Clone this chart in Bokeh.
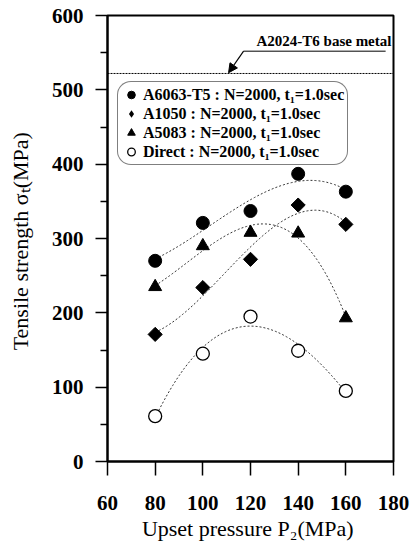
import numpy as np
from bokeh.plotting import figure
from bokeh.models import (Range1d, FixedTicker, Span, Label, Arrow, NormalHead,
                          Legend, LegendItem, ColumnDataSource)
from bokeh.embed import file_html
from bokeh.resources import INLINE

# ---- data ----
pressure = [80, 100, 120, 140, 160]
a6063_t5 = [270, 321, 337, 387, 363]
a1050 = [171, 234, 272, 345, 319]
a5083 = [235, 290, 308, 307, 193]
direct = [61, 145, 195, 149, 95]
base_metal = 522

labels = ["A6063-T5 : N=2000, t\u2081=1.0sec",
          "A1050 : N=2000, t\u2081=1.0sec",
          "A5083 : N=2000, t\u2081=1.0sec",
          "Direct : N=2000, t\u2081=1.0sec"]
x_ticks = [60, 80, 100, 120, 140, 160, 180]
y_ticks = [0, 100, 200, 300, 400, 500, 600]
y_minor = [50, 150, 250, 350, 450, 550]

SERIF = "Liberation Serif"

p = figure(width=412, height=546, output_backend="svg", toolbar_location=None,
           x_range=Range1d(60, 180), y_range=Range1d(0, 600),
           min_border_left=107, min_border_right=19, min_border_top=15,
           min_border_bottom=85)
p.grid.visible = False
p.outline_line_color = "black"
p.outline_line_width = 2
p.background_fill_color = "white"
p.border_fill_color = "white"

# axes
xa = p.xaxis[0]
xa.ticker = FixedTicker(ticks=x_ticks)
xa.axis_line_width = 2
xa.major_tick_out = 14
xa.major_tick_in = 0
xa.major_tick_line_width = 1.5
xa.major_label_standoff = 20
xa.major_label_text_font = SERIF
xa.major_label_text_font_style = "bold"
xa.major_label_text_font_size = "21px"
xa.major_label_text_color = "black"
xa.axis_label = "Upset pressure  P\u2082(MPa)"
xa.axis_label_text_font = SERIF
xa.axis_label_text_font_style = "normal"
xa.axis_label_text_font_size = "22px"
xa.axis_label_text_color = "black"
xa.axis_label_standoff = 3

ya = p.yaxis[0]
ya.ticker = FixedTicker(ticks=y_ticks, minor_ticks=y_minor)
ya.axis_line_width = 2
ya.major_tick_out = 12
ya.major_tick_in = 0
ya.minor_tick_out = 7
ya.minor_tick_in = 0
ya.major_tick_line_width = 1.5
ya.minor_tick_line_width = 1.5
ya.major_label_standoff = 12
ya.major_label_text_font = SERIF
ya.major_label_text_font_style = "bold"
ya.major_label_text_font_size = "21px"
ya.major_label_text_color = "black"
ya.axis_label = "Tensile strength  \u03c3\u209c(MPa)"
ya.axis_label_text_font = SERIF
ya.axis_label_text_font_style = "normal"
ya.axis_label_text_font_size = "22px"
ya.axis_label_text_color = "black"
ya.axis_label_standoff = 16

# base metal line and annotation
p.add_layout(Span(location=base_metal, dimension="width", line_color="black",
                  line_width=1, line_dash="2 1"))
ann_src = ColumnDataSource(dict(x0=[117.1], y0=[552], x1=[176.7], y1=[552]))
p.segment(x0="x0", y0="y0", x1="x1", y1="y1", source=ann_src,
          line_color="black", line_width=1)
p.add_layout(Arrow(x_start=117.1, y_start=552, x_end=110.8, y_end=base_metal + 1,
                   line_width=1.2, line_color="black",
                   end=NormalHead(size=9, fill_color="black", line_color="black")))
p.add_layout(Label(x=122.5, y=552, y_offset=2, text="A2024-T6 base metal",
                   text_font=SERIF, text_font_size="15px", text_color="black",
                   text_font_style="bold", text_baseline="bottom"))

# fitted trend curves
xs = np.linspace(min(pressure), max(pressure), 120)
for ys in (a6063_t5, a1050, a5083, direct):
    coef = np.polyfit(pressure, ys, 3)
    p.line(xs, np.polyval(coef, xs), line_color="#333333", line_width=1,
           line_dash="2 2")

r1 = p.scatter(pressure, a6063_t5, marker="circle", size=13,
               fill_color="black", line_color="black")
r2 = p.scatter(pressure, a1050, marker="square", size=10, angle=np.pi / 4,
               fill_color="black", line_color="black")
# legend swatch for the diamonds (legend glyphs are drawn unrotated)
r2_key = p.scatter(pressure, a1050, marker="diamond", size=0,
                   fill_color="black", line_color=None)
r3 = p.scatter(pressure, a5083, marker="triangle", size=13,
               fill_color="black", line_color="black")
r4 = p.scatter(pressure, direct, marker="circle", size=13,
               fill_color="white", line_color="black", line_width=1.3)

legend = Legend(items=[LegendItem(label=labels[0], renderers=[r1]),
                       LegendItem(label=labels[1], renderers=[r2_key]),
                       LegendItem(label=labels[2], renderers=[r3]),
                       LegendItem(label=labels[3], renderers=[r4])],
                location=(10, 296), orientation="vertical",
                label_text_font=SERIF, label_text_font_size="16px",
                label_text_font_style="bold", label_text_color="black",
                label_standoff=2, glyph_width=20, glyph_height=19,
                label_height=16, spacing=0, padding=3, margin=0,
                border_line_color="black", border_line_width=1.2,
                background_fill_alpha=1.0)
if "border_radius" in Legend.properties():
    legend.border_radius = 14
p.add_layout(legend, "center")

open("out.html", "w").write(file_html(p, INLINE))
